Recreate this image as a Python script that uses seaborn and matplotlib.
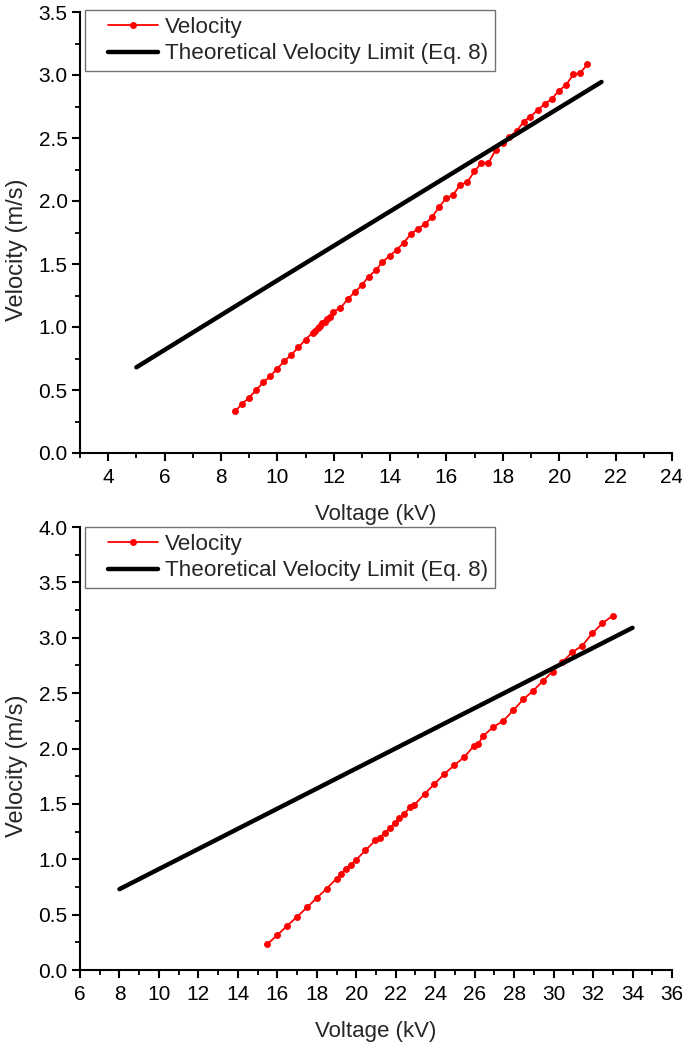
import seaborn as sns
import matplotlib.pyplot as plt
from matplotlib.ticker import MultipleLocator
from matplotlib.lines import Line2D
from matplotlib.legend_handler import HandlerLine2D

# top panel: measured velocity vs voltage
volt_a = [8.5, 8.75, 9.0, 9.25, 9.5, 9.75, 10.0, 10.25, 10.5, 10.75, 11.0, 11.25,
          11.33, 11.43, 11.51, 11.6, 11.69, 11.77, 11.87, 11.96, 12.24, 12.49, 12.74,
          12.99, 13.24, 13.49, 13.73, 13.98, 14.23, 14.48, 14.73, 14.98, 15.23, 15.48,
          15.73, 15.98, 16.24, 16.49, 16.74, 16.99, 17.23, 17.49, 17.74, 17.99, 18.23,
          18.49, 18.74, 18.98, 19.23, 19.48, 19.74, 19.98, 20.24, 20.5, 20.74, 21.0]
vel_a = [0.33, 0.39, 0.44, 0.50, 0.56, 0.61, 0.67, 0.73, 0.78, 0.84, 0.90, 0.955,
         0.97, 0.99, 1.01, 1.03, 1.04, 1.06, 1.08, 1.12, 1.15, 1.22, 1.275,
         1.33, 1.40, 1.45, 1.515, 1.565, 1.61, 1.67, 1.735, 1.78, 1.815, 1.87,
         1.95, 2.02, 2.05, 2.13, 2.15, 2.235, 2.30, 2.30, 2.405, 2.46, 2.51,
         2.555, 2.63, 2.67, 2.72, 2.77, 2.81, 2.875, 2.92, 3.005, 3.015, 3.085]
theo_volt_a = [5.0, 10.0, 15.0, 21.5]
theo_vel_a = [0.68, 1.37, 2.055, 2.945]

# bottom panel
volt_b = [15.5, 16.0, 16.5, 17.0, 17.5, 18.0, 18.5, 19.0, 19.23, 19.47, 19.72, 19.97,
          20.46, 20.97, 21.19, 21.46, 21.69, 21.95, 22.18, 22.44, 22.72, 22.94, 23.47,
          23.96, 24.47, 24.97, 25.46, 25.95, 26.19, 26.44, 26.95, 27.45, 27.96, 28.47,
          28.96, 29.46, 29.95, 30.44, 30.95, 31.46, 31.96, 32.47, 33.0]
vel_b = [0.235, 0.315, 0.40, 0.48, 0.565, 0.65, 0.735, 0.825, 0.865, 0.915, 0.95, 0.99,
         1.08, 1.17, 1.195, 1.24, 1.28, 1.325, 1.37, 1.41, 1.47, 1.49, 1.59,
         1.68, 1.77, 1.85, 1.92, 2.02, 2.045, 2.115, 2.195, 2.25, 2.345, 2.445,
         2.52, 2.61, 2.695, 2.78, 2.87, 2.93, 3.04, 3.13, 3.20]
theo_volt_b = [8.0, 14.0, 20.0, 26.0, 34.0]
theo_vel_b = [0.73, 1.275, 1.82, 2.365, 3.09]

panels = [
    (volt_a, vel_a, theo_volt_a, theo_vel_a, (3, 24), (0, 3.5)),
    (volt_b, vel_b, theo_volt_b, theo_vel_b, (6, 36), (0, 4.0)),
]


# legend handle drawn with some empty space on its left, like the original
class ShiftedLine(HandlerLine2D):
    def create_artists(self, legend, orig_handle, xdescent, ydescent,
                       width, height, fontsize, trans):
        shift = 0.7 * fontsize
        return super().create_artists(legend, orig_handle, xdescent - shift,
                                      ydescent, width - shift, height,
                                      fontsize, trans)


sns.set_style("ticks")
plt.rcParams['font.family'] = ['Liberation Sans', 'DejaVu Sans']

W, H = 682, 1043
fig = plt.figure(figsize=(W / 100, H / 100), dpi=100)

# axes boxes in pixels: left, top, right, bottom
boxes = [(80, 12, 672, 453), (80, 527, 672, 970)]
leg_tops = [10, 527]
skip_first = [True, False]  # top panel has no label at its left end

for i, (vx, vy, tx, ty, xl, yl) in enumerate(panels):
    l, t, r, b = boxes[i]
    ax = fig.add_axes([l / W, 1 - b / H, (r - l) / W, (b - t) / H])

    sns.lineplot(x=vx, y=vy, color='red', marker='o', markersize=5,
                 markeredgewidth=0, linewidth=1.3, estimator=None, sort=False,
                 label='Velocity', ax=ax)
    sns.lineplot(x=tx, y=ty, color='black', linewidth=3.2, estimator=None,
                 sort=False, label='Theoretical Velocity Limit (Eq. 8)', ax=ax)

    ax.set_xlim(*xl)
    ax.set_ylim(*yl)
    ax.xaxis.set_major_locator(MultipleLocator(2))
    ax.xaxis.set_minor_locator(MultipleLocator(1))
    ax.yaxis.set_major_locator(MultipleLocator(0.5))
    ax.yaxis.set_minor_locator(MultipleLocator(0.25))
    ax.yaxis.set_major_formatter(lambda v, p: f"{v:.1f}")
    ax.xaxis.set_major_formatter(
        lambda v, p, x0=xl[0], skip=skip_first[i]: "" if (skip and v <= x0) else f"{v:g}")

    for side in ['top', 'right']:
        ax.spines[side].set_visible(False)
    for side in ['left', 'bottom']:
        ax.spines[side].set_linewidth(1.5)
        ax.spines[side].set_color('black')
    ax.tick_params(which='major', direction='out', length=6, width=1.5,
                   colors='black', labelsize=15)
    ax.tick_params(which='minor', direction='out', length=3.5, width=1.3,
                   colors='black')
    ax.tick_params(axis='x', which='major', pad=5)
    ax.tick_params(axis='y', which='major', pad=3)

    ax.set_xlabel('Voltage (kV)', fontsize=16, labelpad=12)
    ax.set_ylabel('Velocity (m/s)', fontsize=17)
    ax.yaxis.set_label_coords(-0.088, 0.46)

    leg = ax.legend(loc='upper left', bbox_to_anchor=(85 / W, 1 - leg_tops[i] / H),
                    bbox_transform=fig.transFigure, borderaxespad=0, fontsize=16.2,
                    frameon=True, fancybox=False, edgecolor='0.45', framealpha=1,
                    handlelength=2.95, handletextpad=0.3, borderpad=0.3,
                    labelspacing=0.25, handler_map={Line2D: ShiftedLine()})
    leg.get_frame().set_linewidth(1.0)

fig.savefig('out.png', dpi=100)
